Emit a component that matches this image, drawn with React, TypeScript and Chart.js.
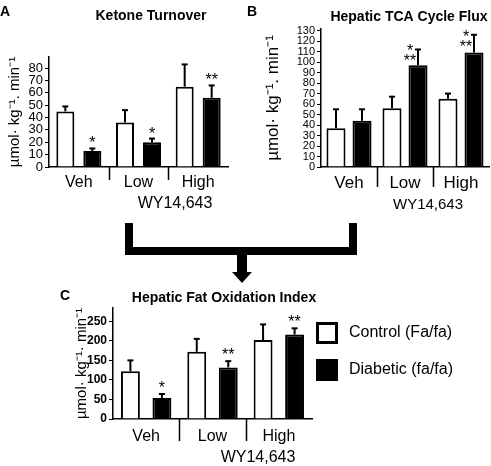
import React, { useEffect, useRef } from 'react';
import { Chart, registerables } from 'chart.js';

Chart.register(...registerables);

const FONT = "'Liberation Sans', Arial, Helvetica, sans-serif";
const W = 491;
const H = 466;
const X_AXIS_H = 40;

const categories = ['Veh', 'Low', 'High'];
const seriesNames = ['Control (Fa/fa)', 'Diabetic (fa/fa)'];
const drugLabel = 'WY14,643';

// Panel A: Ketone Turnover
const ketoneControl = [45, 36, 65];
const ketoneControlErr = [49, 46, 83];
const ketoneDiabetic = [13, 20, 56];
const ketoneDiabeticErr = [15, 23, 66];
const ketoneSig = ['*', '*', '**'];
const ketoneTicks = [0, 10, 20, 30, 40, 50, 60, 70, 80];

// Panel B: Hepatic TCA Cycle Flux
const tcaControl = [37, 56, 65];
const tcaControlErr = [55, 67, 70];
const tcaDiabetic = [44, 97, 109];
const tcaDiabeticErr = [55, 112, 126];
const tcaSig = ['', '*\n**', '*\n**'];
const tcaTicks = [0, 10, 20, 30, 40, 50, 60, 70, 80, 90, 100, 110, 120, 130];

// Panel C: Hepatic Fat Oxidation Index
const fatControl = [122, 172, 202];
const fatControlErr = [150, 205, 242];
const fatDiabetic = [54, 132, 216];
const fatDiabeticErr = [64, 148, 232];
const fatSig = ['*', '**', '**'];
const fatTicks = [0, 50, 100, 150, 200, 250];

type Panel = {
  key: string;
  letter: string;
  title: string;
  yTitle: string;
  control: number[];
  controlErr: number[];
  diabetic: number[];
  diabeticErr: number[];
  sig: string[];
  ticks: number[];
  area: { left: number; right: number; top: number; bottom: number };
  padLeft: number;
  yMax: number;
  yTickFont: { size: number; weight?: string };
  yTitleSize: number;
  xFontSize: number;
  xPad: number;
  catPct: number;
  barPct: number;
  sepLen: number;
  titlePos: [number, number];
  letterPos: [number, number];
  wyPos: [number, number];
  wySize: number;
  sigDx: number;
  sigBase: number;
  legend?: boolean;
};

const panels: Panel[] = [
  {
    key: 'A', letter: 'A', title: 'Ketone Turnover', yTitle: 'µmol· kg⁻¹. min⁻¹',
    control: ketoneControl, controlErr: ketoneControlErr,
    diabetic: ketoneDiabetic, diabeticErr: ketoneDiabeticErr, sig: ketoneSig, ticks: ketoneTicks,
    area: { left: 49, right: 228, top: 57, bottom: 167 }, padLeft: 6,
    yMax: 89, yTickFont: { size: 13 }, yTitleSize: 15,
    xFontSize: 16, xPad: 6, catPct: 0.905, barPct: 0.667, sepLen: 13,
    titlePos: [151, 16.5], letterPos: [0, 12.5], wyPos: [175, 204], wySize: 16,
    sigDx: 0, sigBase: 0,
  },
  {
    key: 'B', letter: 'B', title: 'Hepatic TCA Cycle Flux', yTitle: 'µmol· kg⁻¹. min⁻¹',
    control: tcaControl, controlErr: tcaControlErr,
    diabetic: tcaDiabetic, diabeticErr: tcaDiabeticErr, sig: tcaSig, ticks: tcaTicks,
    area: { left: 321, right: 489, top: 29, bottom: 167 }, padLeft: 263,
    yMax: 131.5, yTickFont: { size: 11 }, yTitleSize: 17,
    xFontSize: 17, xPad: 6, catPct: 0.93, barPct: 0.73, sepLen: 20,
    titlePos: [409, 17], letterPos: [247, 12.5], wyPos: [428, 205], wySize: 15,
    sigDx: -8, sigBase: 17,
  },
  {
    key: 'C', letter: 'C', title: 'Hepatic Fat Oxidation Index', yTitle: 'µmol· kg⁻¹· min⁻¹',
    control: fatControl, controlErr: fatControlErr,
    diabetic: fatDiabetic, diabeticErr: fatDiabeticErr, sig: fatSig, ticks: fatTicks,
    area: { left: 113, right: 312, top: 308, bottom: 419 }, padLeft: 73,
    yMax: 284, yTickFont: { size: 12, weight: 'bold' }, yTitleSize: 15,
    xFontSize: 16, xPad: 8, catPct: 0.95, barPct: 0.6, sepLen: 22,
    titlePos: [224, 298.5], letterPos: [60, 296], wyPos: [258, 458], wySize: 16,
    sigDx: 0, sigBase: -1, legend: true,
  },
];

function buildConfig(p: Panel): any {
  const annot = {
    id: 'annot' + p.key,
    afterDatasetsDraw(chart: any) {
      const ctx = chart.ctx;
      const ys = chart.scales.y;
      ctx.save();
      ctx.strokeStyle = '#000';
      ctx.fillStyle = '#000';
      const errs = [p.controlErr, p.diabeticErr];
      errs.forEach((e, di) => {
        const meta = chart.getDatasetMeta(di);
        meta.data.forEach((bar: any, i: number) => {
          const x = bar.x;
          const yTop = ys.getPixelForValue(e[i]);
          ctx.lineWidth = 2;
          ctx.beginPath();
          ctx.moveTo(x, bar.y);
          ctx.lineTo(x, yTop);
          ctx.stroke();
          ctx.beginPath();
          ctx.moveTo(x - 3, yTop);
          ctx.lineTo(x + 3, yTop);
          ctx.stroke();
          if (di === 1 && p.sig[i]) {
            const lines = p.sig[i].split('\n');
            ctx.font = `16px ${FONT}`;
            ctx.textAlign = 'center';
            ctx.textBaseline = 'alphabetic';
            const n = lines.length;
            lines.forEach((ln, li) => {
              const y = yTop + p.sigBase - (n - 1 - li) * 10;
              ctx.fillText(ln, x + p.sigDx, y);
            });
          }
        });
      });
      ctx.restore();
    },
    afterDraw(chart: any) {
      const ctx = chart.ctx;
      const xs = chart.scales.x;
      const area = chart.chartArea;
      ctx.save();
      ctx.strokeStyle = '#000';
      ctx.fillStyle = '#000';
      // separators between groups
      ctx.lineWidth = 1.5;
      for (let i = 0; i < categories.length - 1; i++) {
        const sx = Math.round((xs.getPixelForValue(i) + xs.getPixelForValue(i + 1)) / 2) + 0.5;
        ctx.beginPath();
        ctx.moveTo(sx, area.bottom);
        ctx.lineTo(sx, area.bottom + p.sepLen);
        ctx.stroke();
      }
      // panel letter
      ctx.textBaseline = 'middle';
      ctx.textAlign = 'left';
      ctx.font = `bold 14px ${FONT}`;
      ctx.fillText(p.letter, p.letterPos[0], p.letterPos[1]);
      // title
      ctx.textAlign = 'center';
      ctx.font = `bold 14px ${FONT}`;
      ctx.fillText(p.title, p.titlePos[0], p.titlePos[1]);
      // drug label
      ctx.font = `${p.wySize}px ${FONT}`;
      ctx.fillText(drugLabel, p.wyPos[0], p.wyPos[1]);
      // legend
      if (p.legend) {
        const items = [
          { y: 322, fill: '#fff' },
          { y: 359, fill: '#000' },
        ];
        items.forEach((it, k) => {
          ctx.fillStyle = it.fill;
          ctx.fillRect(317, it.y + 1, 20, 20);
          ctx.lineWidth = 3;
          ctx.strokeStyle = '#000';
          ctx.strokeRect(317.5, it.y + 1.5, 19, 19);
          ctx.fillStyle = '#000';
          ctx.textAlign = 'left';
          ctx.font = `16px ${FONT}`;
          ctx.fillText(seriesNames[k], 349, it.y + 11);
        });
      }
      ctx.restore();
    },
  };

  return {
    type: 'bar',
    data: {
      labels: categories,
      datasets: [
        {
          label: seriesNames[0], data: p.control, backgroundColor: '#fff', borderColor: '#000',
          borderWidth: 2, barPercentage: p.barPct, categoryPercentage: p.catPct,
        },
        {
          label: seriesNames[1], data: p.diabetic, backgroundColor: '#000', borderColor: '#000',
          borderWidth: 2, barPercentage: p.barPct, categoryPercentage: p.catPct,
        },
      ],
    },
    options: {
      responsive: false,
      animation: false,
      layout: {
        padding: {
          left: p.padLeft,
          right: W - p.area.right,
          top: p.area.top,
          bottom: H - p.area.bottom - X_AXIS_H,
        },
      },
      plugins: {
        legend: { display: false },
        tooltip: { enabled: false },
        title: { display: false },
      },
      scales: {
        x: {
          type: 'category',
          offset: true,
          grid: { display: false, drawTicks: false },
          border: { display: true, color: '#000', width: 1.5 },
          ticks: { color: '#000', font: { family: FONT, size: p.xFontSize }, padding: p.xPad, maxRotation: 0, autoSkip: false },
          afterFit: (s: any) => { s.height = X_AXIS_H; },
        },
        y: {
          min: 0,
          max: p.yMax,
          ticks: {
            color: '#000', padding: 2, autoSkip: false,
            font: { family: FONT, size: p.yTickFont.size, weight: p.yTickFont.weight || 'normal', lineHeight: 1 },
          },
          afterBuildTicks: (s: any) => { s.ticks = p.ticks.map((v) => ({ value: v })); },
          grid: { drawOnChartArea: false, color: '#000', tickLength: 4, lineWidth: 1 },
          border: { display: true, color: '#000', width: 1.5 },
          title: {
            display: true, text: p.yTitle, color: '#000', padding: 0,
            font: { family: FONT, size: p.yTitleSize },
          },
          afterFit: (s: any) => { s.width = p.area.left - p.padLeft; },
        },
      },
    },
    plugins: [annot],
  };
}

function PanelChart({ p }: { p: Panel }) {
  const ref = useRef<HTMLCanvasElement | null>(null);
  useEffect(() => {
    if (!ref.current) return;
    const chart = new Chart(ref.current, buildConfig(p));
    return () => chart.destroy();
  }, [p]);
  return (
    <canvas
      ref={ref}
      width={W}
      height={H}
      style={{ position: 'absolute', left: 0, top: 0, width: W, height: H }}
    />
  );
}

const box = (l: number, t: number, w: number, h: number): React.CSSProperties => ({
  position: 'absolute', left: l, top: t, width: w, height: h, background: '#000',
});

export default function App() {
  return (
    <div style={{ position: 'absolute', left: 0, top: 0, width: W, height: H, background: '#fff', overflow: 'hidden' }}>
      {/* connecting bracket and arrow */}
      <div style={box(125, 223, 8, 32)} />
      <div style={box(349, 223, 8, 32)} />
      <div style={box(125, 247, 232, 8)} />
      <div style={box(237, 255, 10, 17)} />
      <div
        style={{
          position: 'absolute', left: 232, top: 272, width: 0, height: 0,
          borderLeft: '10px solid transparent', borderRight: '10px solid transparent',
          borderTop: '11px solid #000',
        }}
      />
      {panels.map((p) => (
        <PanelChart key={p.key} p={p} />
      ))}
    </div>
  );
}
